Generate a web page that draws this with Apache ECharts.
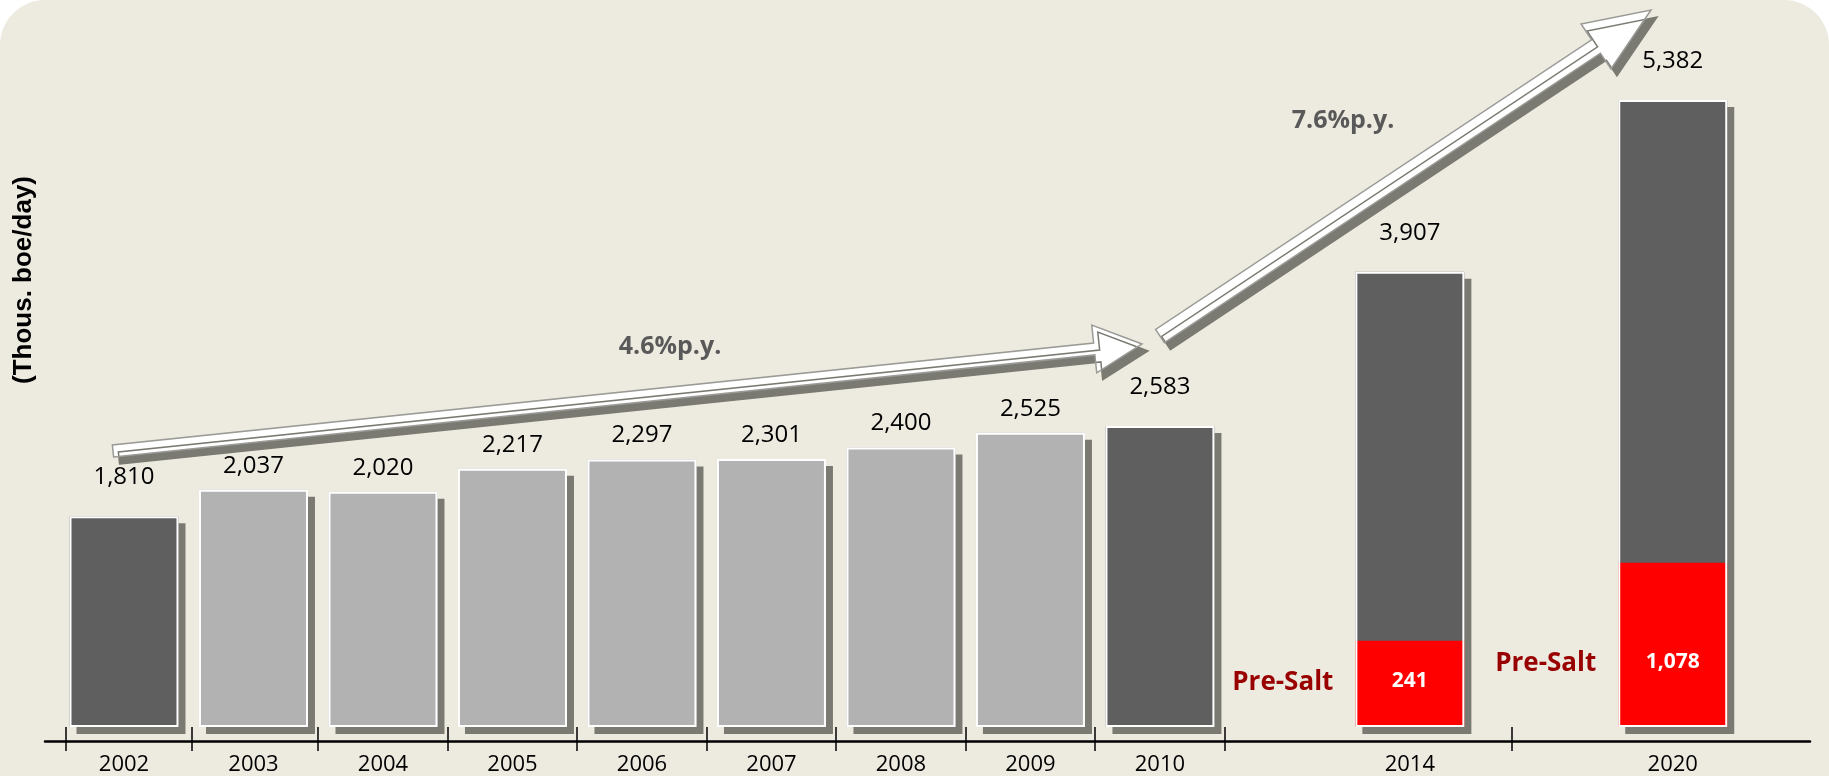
<!DOCTYPE html>
<html>
<head>
<meta charset="utf-8">
<title>Production growth</title>
<script src="https://cdn.jsdelivr.net/npm/echarts@6/dist/echarts.min.js"></script>
<style>
    html, body { margin: 0; padding: 0; background: #fff; overflow: hidden; }
    #chart {
        width: 1829px; height: 776px;
        background: #edebe0;
        border-radius: 45px 45px 0 0;
    }
</style>
</head>
<body>
<div id="chart"></div>
<script>
// values
var years = ['2002', '2003', '2004', '2005', '2006', '2007', '2008', '2009', '2010', '2014', '2020'];
var totals = [1810, 2037, 2020, 2217, 2297, 2301, 2400, 2525, 2583, 3907, 5382];
var darkYears = ['2002', '2010', '2014', '2020'];
var preSaltYears = ['2014', '2020'];
var preSaltValues = [241, 1078];
// the red blocks are not drawn to scale in the original, these are the heights they show
var preSaltDrawn = [740, 1410];
var growthLabels = ['4.6%p.y.', '7.6%p.y.'];

// layout: where each year sits on the x axis (the last two years get wider slots)
var slots = [0, 1, 2, 3, 4, 5, 6, 7, 8, 9.93, 11.96];
var tickSlots = [-0.45, 0.52, 1.5, 2.5, 3.5, 4.5, 5.5, 6.5, 7.5, 8.5, 10.72];

var FONT = '"Open Sans", "Noto Sans", sans-serif';
var BAR_W = 109;

function fmt(n) { return n.toLocaleString('en-US'); }
function yearAt(v) {
    for (var i = 0; i < slots.length; i++) {
        if (Math.abs(slots[i] - v) < 0.01) return years[i];
    }
    return '';
}

var darkData = [], lightData = [], outlineData = [];
years.forEach(function (y, i) {
    var pt = [slots[i], totals[i]];
    if (darkYears.indexOf(y) >= 0) darkData.push(pt); else lightData.push(pt);
    outlineData.push(pt);
});
// 2020 labels sit a bit lower than the middle of its red block
var preSaltOffsets = [[0, -3], [0, 17]];
var preSaltData = preSaltYears.map(function (y, k) {
    return {
        value: [slots[years.indexOf(y)], preSaltDrawn[k]],
        label: { offset: preSaltOffsets[k] }
    };
});
var preSaltNameData = preSaltYears.map(function (y, k) {
    return {
        value: [slots[years.indexOf(y)], preSaltDrawn[k]],
        label: { offset: [0, preSaltOffsets[k][1] + 2] }
    };
});

function arrowPoints(x0, y0, x1, y1, shaft, headW, headL) {
    var dx = x1 - x0, dy = y1 - y0, len = Math.sqrt(dx * dx + dy * dy);
    var ux = dx / len, uy = dy / len, nx = -uy, ny = ux;
    var bx = x1 - ux * headL, by = y1 - uy * headL;
    var s = shaft / 2, h = headW / 2;
    return [
        [x0 + nx * s, y0 + ny * s], [bx + nx * s, by + ny * s], [bx + nx * h, by + ny * h],
        [x1, y1],
        [bx - nx * h, by - ny * h], [bx - nx * s, by - ny * s], [x0 - nx * s, y0 - ny * s]
    ];
}
function arrow(pts) {
    return {
        type: 'polygon', z: 20, silent: true,
        shape: { points: pts },
        style: {
            fill: '#fff', stroke: '#9a9a96', lineWidth: 1.5,
            shadowColor: '#7b7a72', shadowBlur: 0, shadowOffsetX: 6, shadowOffsetY: 7
        }
    };
}
function topLabel(distance) {
    return {
        show: true, position: 'top', distance: distance,
        color: '#000', fontSize: 24, fontFamily: FONT,
        formatter: function (p) { return fmt(p.value[1]); }
    };
}
var shadowStyle = { shadowColor: '#7b7a72', shadowBlur: 0, shadowOffsetX: 7, shadowOffsetY: 7 };

var xMin = -0.61, xMax = 13.02;

var myChart = echarts.init(document.getElementById('chart'));
myChart.setOption({
    animation: false,
    backgroundColor: 'transparent',
    textStyle: { fontFamily: FONT },
    grid: { left: 45, right: 19, top: 28, bottom: 49 },
    xAxis: [{
        // ticks cross the axis line: this axis sits 12px above the line, ticks 24px long
        type: 'value', position: 'bottom', min: xMin, max: xMax, offset: 2,
        splitLine: { show: false },
        axisLine: { show: false },
        axisTick: { show: true, customValues: tickSlots, length: 24, lineStyle: { color: '#000', width: 1.5 } },
        axisLabel: {
            customValues: slots, formatter: yearAt, margin: 25,
            color: '#000', fontSize: 22, fontFamily: FONT
        }
    }, {
        type: 'value', position: 'bottom', min: xMin, max: xMax, offset: 14,
        splitLine: { show: false },
        axisLine: { show: true, lineStyle: { color: '#000', width: 2.5 } },
        axisTick: { show: false },
        axisLabel: { show: false }
    }],
    yAxis: { type: 'value', min: 0, max: 6000, show: false },
    series: [{
        name: 'dark', type: 'bar', barWidth: BAR_W, barGap: '-100%',
        data: darkData,
        itemStyle: Object.assign({ color: '#5f5f5f' }, shadowStyle),
        label: topLabel(27)
    }, {
        name: 'light', type: 'bar', barWidth: BAR_W, barGap: '-100%',
        data: lightData,
        itemStyle: Object.assign({ color: '#b2b2b2' }, shadowStyle),
        label: topLabel(12)
    }, {
        name: 'preSalt', type: 'bar', barWidth: BAR_W, barGap: '-100%',
        data: preSaltData,
        itemStyle: { color: '#ff0000' },
        label: {
            show: true, position: 'inside',
            color: '#fff', fontSize: 21, fontWeight: 'bold', fontFamily: FONT,
            formatter: function (p) { return fmt(preSaltValues[p.dataIndex]); }
        }
    }, {
        // white frame drawn over every bar, kept off the shadow
        name: 'outline', type: 'bar', barWidth: BAR_W, barGap: '-100%',
        data: outlineData,
        itemStyle: { color: 'rgba(0,0,0,0)', borderColor: '#fff', borderWidth: 2 }
    }, {
        name: 'preSaltName', type: 'bar', barWidth: BAR_W, barGap: '-100%',
        data: preSaltNameData,
        itemStyle: { color: 'rgba(0,0,0,0)' },
        label: {
            show: true, position: 'left', distance: 22,
            color: '#990000', fontSize: 26, fontWeight: 'bold', fontFamily: FONT,
            formatter: 'Pre-Salt'
        }
    }],
    graphic: [
        arrow(arrowPoints(113, 451, 1142, 344, 12, 48, 48)),
        arrow(arrowPoints(1160, 336, 1651, 10, 16, 54, 66)),
        {
            type: 'text', z: 20, silent: true, x: 670, y: 347,
            style: {
                text: growthLabels[0], align: 'center', verticalAlign: 'middle',
                fill: '#595959', font: 'bold 25px ' + FONT
            }
        }, {
            type: 'text', z: 20, silent: true, x: 1343, y: 121,
            style: {
                text: growthLabels[1], align: 'center', verticalAlign: 'middle',
                fill: '#595959', font: 'bold 25px ' + FONT
            }
        }, {
            type: 'text', z: 20, silent: true, x: 24, y: 280, rotation: Math.PI / 2,
            style: {
                text: '(Thous. boe/day)', align: 'center', verticalAlign: 'middle',
                fill: '#000', font: 'bold 26px "Liberation Sans", Arial, sans-serif'
            }
        }
    ]
});
window.addEventListener('resize', myChart.resize);
</script>
</body>
</html>
